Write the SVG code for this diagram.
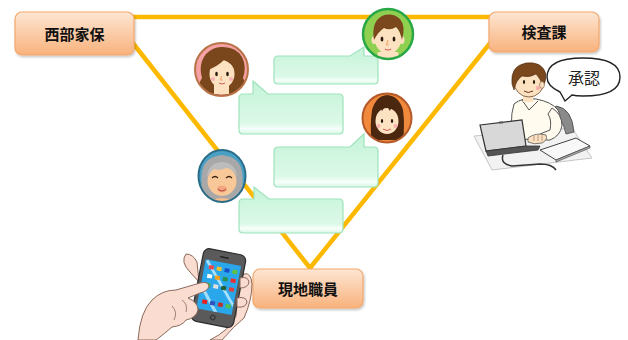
<svg xmlns="http://www.w3.org/2000/svg" width="628" height="340" viewBox="0 0 628 340">
  <defs>
    <linearGradient id="boxFill" x1="0" y1="0" x2="0" y2="1">
      <stop offset="0" stop-color="#fde6d3"/>
      <stop offset="1" stop-color="#f8b27c"/>
    </linearGradient>
    <linearGradient id="bubbleFill" x1="0" y1="0" x2="0" y2="1">
      <stop offset="0" stop-color="#c4f3d8"/>
      <stop offset="0.8" stop-color="#dcf9e8"/>
      <stop offset="0.9" stop-color="#f6fffa"/>
      <stop offset="1" stop-color="#d8f7e6"/>
    </linearGradient>
    <filter id="soft" x="-10%" y="-10%" width="130%" height="140%">
      <feDropShadow dx="1" dy="1.5" stdDeviation="1.2" flood-color="#000" flood-opacity="0.25"/>
    </filter>
    <clipPath id="clipA"><circle cx="221.5" cy="69.5" r="26.5"/></clipPath>
    <clipPath id="clipB"><circle cx="388" cy="34" r="25"/></clipPath>
    <clipPath id="clipC"><circle cx="387" cy="118" r="24.5"/></clipPath>
    <clipPath id="clipD"><ellipse cx="222" cy="176" rx="23.5" ry="26"/></clipPath>
  </defs>
  <style>
    .link { stroke: #fdb900; stroke-width: 4.5; fill: none; stroke-linecap: round; }
    .box { fill: url(#boxFill); stroke: #f3a86c; stroke-width: 1.2; filter: url(#soft); }
    .label { font-family: "Noto Sans CJK JP", "Noto Sans CJK SC", sans-serif; font-weight: bold; font-size: 15px; fill: #111; text-anchor: middle; }
    .bubble { fill: url(#bubbleFill); stroke: #9ee3bc; stroke-width: 1.2; }
    .skin { fill: #fde2c2; }
    .hand { fill: #fadcd0; stroke: #8c6a5c; stroke-width: 1; }
    .eye { fill: #2a1a10; }
  </style>

  <!-- connectors -->
  <g id="connectors">
    <line class="link" x1="130" y1="17" x2="492" y2="17"/>
    <line class="link" x1="132" y1="42" x2="310" y2="268"/>
    <line class="link" x1="491" y1="42" x2="310" y2="268"/>
  </g>

  <!-- blank message bubbles -->
  <g id="bubble1">
    <path class="bubble" d="M278,56 H350 L364,47 V56 H374 Q378,56 378,60 V80 Q378,84 374,84 H278 Q274,84 274,80 V60 Q274,56 278,56 Z"/>
  </g>
  <g id="bubble2">
    <path class="bubble" d="M243,94 H253 V81 L268,94 H339 Q343,94 343,98 V130 Q343,134 339,134 H243 Q239,134 239,130 V98 Q239,94 243,94 Z"/>
  </g>
  <g id="bubble3">
    <path class="bubble" d="M278,147 H350 L364,134 V147 H374 Q378,147 378,151 V183 Q378,187 374,187 H278 Q274,187 274,183 V151 Q274,147 278,147 Z"/>
  </g>
  <g id="bubble4">
    <path class="bubble" d="M243,199 H254 V187 L269,199 H339 Q343,199 343,203 V229 Q343,233 339,233 H243 Q239,233 239,229 V203 Q239,199 243,199 Z"/>
  </g>

  <!-- nodes -->
  <g id="node-seibu">
    <rect class="box" x="15" y="12" width="119" height="43" rx="7"/>
    <text class="label" x="74.5" y="39.5">西部家保</text>
  </g>
  <g id="node-kensa">
    <rect class="box" x="489" y="12" width="110" height="40" rx="7"/>
    <text class="label" x="544" y="38">検査課</text>
  </g>
  <g id="node-genchi">
    <rect class="box" x="253" y="269" width="110" height="39" rx="7"/>
    <text class="label" x="308" y="294.5">現地職員</text>
  </g>

  <!-- avatar: woman with wavy hair -->
  <g id="avatar-woman1">
    <circle cx="221.5" cy="69.5" r="26.5" fill="#f6a1a3"/>
    <g clip-path="url(#clipA)">
      <path d="M203,96 Q196,86 202,78 Q198,64 206,54 Q214,46 223,47 Q236,47 242,57 Q247,66 243,78 Q249,87 241,96 Z" fill="#7a471c"/>
      <rect x="214" y="84" width="15" height="10" class="skin"/>
      <path d="M210,98 Q221,90 234,98 V100 H210 Z" fill="#f6a1a3"/>
      <ellipse cx="222" cy="74" rx="12.5" ry="14" class="skin"/>
      <path d="M208,70 Q210,56 222,55 Q234,56 236,70 Q230,62 224,60 Q218,66 208,70 Z" fill="#7a471c"/>
    </g>
    <ellipse cx="216.5" cy="74" rx="1.3" ry="2.2" class="eye"/>
    <ellipse cx="227.5" cy="74" rx="1.3" ry="2.2" class="eye"/>
    <circle cx="213" cy="79" r="2" fill="#f8b0b8"/>
    <circle cx="231" cy="79" r="2" fill="#f8b0b8"/>
    <path d="M221.5,76 L220.5,80 H222.5" stroke="#e89050" stroke-width="0.8" fill="none"/>
    <path d="M219,83 Q222,85 225,83" stroke="#d06060" stroke-width="1" fill="none"/>
    <circle cx="221.5" cy="69.5" r="26.5" fill="none" stroke="#b97348" stroke-width="2"/>
  </g>

  <!-- avatar: man with short hair -->
  <g id="avatar-man">
    <circle cx="388" cy="34" r="25" fill="#8fd050"/>
    <g clip-path="url(#clipB)">
      <path d="M376,60 H400 L398,52 H378 Z" class="skin"/>
      <ellipse cx="374.5" cy="40" rx="3" ry="4" class="skin"/>
      <ellipse cx="401.5" cy="40" rx="3" ry="4" class="skin"/>
      <ellipse cx="388" cy="39" rx="13" ry="15" class="skin"/>
      <path d="M374,40 Q371,22 382,16 Q392,12 400,19 Q406,26 402,40 Q400,30 396,27 Q390,31 384,28 Q378,32 374,40 Z" fill="#7b471c"/>
    </g>
    <ellipse cx="382" cy="39" rx="1.4" ry="2.6" class="eye"/>
    <ellipse cx="394" cy="39" rx="1.4" ry="2.6" class="eye"/>
    <path d="M388,40 L386.5,45 H388.5" stroke="#e89050" stroke-width="0.8" fill="none"/>
    <path d="M385,49 Q388,51 391,49" stroke="#d06060" stroke-width="1.2" fill="none"/>
    <circle cx="388" cy="34" r="25" fill="none" stroke="#27a745" stroke-width="2.5"/>
  </g>

  <!-- avatar: woman with long straight hair -->
  <g id="avatar-woman2">
    <circle cx="387" cy="118" r="24.5" fill="#f0893c"/>
    <g clip-path="url(#clipC)">
      <path d="M371,140 Q370,125 372,110 Q376,96 387,95 Q399,96 403,110 Q405,125 403,140 Z" fill="#4b2710"/>
      <ellipse cx="387" cy="121" rx="11.5" ry="13" class="skin"/>
      <path d="M375,115 Q377,101 387,100 Q397,101 399,115 Q396,108 392,106 L390,111 L386,105 L382,111 L380,106 Q377,109 375,115 Z" fill="#4b2710"/>
      <path d="M375,114 Q374,128 377,138 L373,140 Q370,126 372,113 Z" fill="#4b2710"/>
      <path d="M399,114 Q400,128 397,138 L401,140 Q404,126 402,113 Z" fill="#4b2710"/>
    </g>
    <ellipse cx="382" cy="121" rx="1.2" ry="2" class="eye"/>
    <ellipse cx="392" cy="121" rx="1.2" ry="2" class="eye"/>
    <circle cx="378.5" cy="126" r="2" fill="#f8b0b0"/>
    <circle cx="395.5" cy="126" r="2" fill="#f8b0b0"/>
    <path d="M383,129 Q387,132 391,129" stroke="#d06060" stroke-width="1" fill="none"/>
    <circle cx="387" cy="118" r="24.5" fill="none" stroke="#b5592a" stroke-width="2"/>
  </g>

  <!-- avatar: elderly person -->
  <g id="avatar-elder">
    <ellipse cx="222" cy="176" rx="23.5" ry="26" fill="#4a9fc4"/>
    <g clip-path="url(#clipD)">
      <path d="M204,200 Q200,184 202,172 Q204,157 222,155 Q240,157 242,172 Q244,184 240,200 Z" fill="#a8a8a8"/>
      <path d="M212,200 Q222,196 232,200 V205 H212 Z" fill="#f5be8c"/>
      <ellipse cx="222" cy="181" rx="14.5" ry="15" fill="#f9c898"/>
      <path d="M207,177 Q208,163 222,162 Q236,163 237,177 Q232,168 226,168 Q220,171 214,169 Q210,172 207,177 Z" fill="#bcbcbc"/>
    </g>
    <path d="M212,178 Q215,175 218,178" stroke="#3a2010" stroke-width="1.2" fill="none"/>
    <path d="M226,178 Q229,175 232,178" stroke="#3a2010" stroke-width="1.2" fill="none"/>
    <ellipse cx="222" cy="189" rx="5" ry="3.5" fill="#f3a680"/>
    <path d="M218,189 Q222,193 226,189" stroke="#b04040" stroke-width="1" fill="none"/>
    <ellipse cx="222" cy="176" rx="23.5" ry="26" fill="none" stroke="#2a6d89" stroke-width="2"/>
  </g>

  <!-- staff member at a laptop, saying 承認 -->
  <g id="approver">
    <!-- desk -->
    <path d="M474,136 L572,128 L592,158 L492,170 Z" fill="#f2f2f2" stroke="#b8b8b8" stroke-width="0.8"/>
    <!-- chair back -->
    <path d="M556,106 Q572,108 574,132 L566,134 Q562,116 552,112 Z" fill="#8a8a8a" stroke="#444" stroke-width="0.8"/>
    <!-- torso -->
    <path d="M514,104 Q522,97 536,99 Q552,102 558,110 Q562,118 560,130 L548,138 L516,140 Q508,124 514,104 Z" fill="#fffbee" stroke="#555" stroke-width="1"/>
    <path d="M522,100 L529,110 L538,101" fill="none" stroke="#555" stroke-width="1"/>
    <!-- right arm reaching to keyboard -->
    <path d="M552,108 Q562,114 562,126 Q560,136 550,140 L540,140 L540,134 L550,130 Q552,120 548,114 Z" fill="#fffbee" stroke="#555" stroke-width="1"/>
    <path d="M528,138 Q536,132 546,135 Q548,140 542,143 Q534,145 528,142 Z" class="skin" stroke="#555" stroke-width="0.8"/>
    <path d="M534,136 V141 M538,135 V141 M542,135 V141" stroke="#8c6a5c" stroke-width="0.6"/>
    <!-- neck and head -->
    <rect x="523" y="94" width="10" height="8" class="skin"/>
    <ellipse cx="529" cy="82" rx="15" ry="15" class="skin" stroke="#6a4a30" stroke-width="0.8"/>
    <path d="M512,84 Q510,66 526,63 Q542,61 546,74 Q546,82 543,86 Q540,78 536,74 Q530,78 522,76 Q516,80 514,90 Z" fill="#7b471c" stroke="#4a2a10" stroke-width="0.6"/>
    <ellipse cx="542" cy="85" rx="2.4" ry="3.4" class="skin" stroke="#6a4a30" stroke-width="0.6"/>
    <ellipse cx="524" cy="82" rx="1.1" ry="2" class="eye"/>
    <ellipse cx="534" cy="82" rx="1.1" ry="2" class="eye"/>
    <circle cx="538" cy="88" r="2.2" fill="#f7b0a8"/>
    <path d="M524,91 Q528,94 533,91" stroke="#6a3020" stroke-width="1" fill="none"/>
    <!-- tablet on desk -->
    <path d="M540,150 L576,138 L590,146 L556,160 Z" fill="#f8f8f8" stroke="#444" stroke-width="1"/>
    <path d="M556,160 L590,146 L590,148 L556,162 Z" fill="#aaa" stroke="#444" stroke-width="0.6"/>
    <!-- laptop -->
    <path d="M480,125 L522,120 L526,146 L486,151 Z" fill="#d8d8d8" stroke="#333" stroke-width="1.2"/>
    <path d="M486,151 L526,146 L540,146 L538,150 L488,156 Z" fill="#555" stroke="#333" stroke-width="0.8"/>
    <rect x="499" y="121.5" width="4" height="2" fill="#555"/>
    <!-- cable -->
    <path d="M503,155 Q500,164 512,166 L540,164 Q552,164 556,170" fill="none" stroke="#333" stroke-width="1.5"/>
    <!-- speech balloon -->
    <path d="M560,92 Q547,86 547,77 Q547,58 583,58 Q620,58 620,77 Q620,96 583,96 Q576,96 572,95 L565,101 Z" fill="#fff" stroke="#222" stroke-width="1.4"/>
    <text x="584" y="83.5" font-family="Noto Sans CJK JP, sans-serif" font-size="16" fill="#222" text-anchor="middle">承認</text>
  </g>

  <!-- hands holding a smartphone -->
  <g id="smartphone">
    <!-- palm of the holding hand, behind the phone -->
    <path class="hand" d="M222,340 Q234,326 244,318 Q252,300 252,284 Q251,272 244,274 Q238,280 238,292 L236,316 Q230,330 210,340 Z"/>
    <path class="hand" d="M190,272 Q180,262 186,254 Q193,254 197,262 L199,282 Z"/>
    <!-- phone body -->
    <g transform="rotate(11 218 288)">
      <rect x="197" y="251" width="43" height="74" rx="6" fill="#5a5a5a" stroke="#2c2c2c" stroke-width="1.2"/>
      <rect x="200.5" y="262" width="36" height="50" fill="#2aa7ea"/>
      <path d="M203,262 L236,300 L236,304 L201,264 Z" fill="#bfeaff" opacity="0.85"/>
      <path d="M201,286 L222,312 L218,312 L201,291 Z" fill="#bfeaff" opacity="0.8"/>
      <rect x="214" y="256" width="9" height="1.6" rx="0.8" fill="#222"/>
      <circle cx="218.5" cy="318" r="2.4" fill="none" stroke="#222" stroke-width="0.8"/>
      <g>
        <rect x="205" y="267" width="5" height="4" fill="#f04848"/>
        <rect x="213" y="267" width="5" height="4" fill="#f2c030"/>
        <rect x="221" y="267" width="5" height="4" fill="#1a50c8"/>
        <rect x="229" y="267" width="5" height="4" fill="#60c040"/>
        <rect x="205" y="276" width="5" height="4" fill="#ffffff"/>
        <rect x="213" y="276" width="5" height="4" fill="#f8a020"/>
        <rect x="221" y="276" width="5" height="4" fill="#2a9050"/>
        <rect x="229" y="276" width="5" height="4" fill="#e83030"/>
        <rect x="205" y="285" width="5" height="4" fill="#40b040"/>
        <rect x="213" y="285" width="5" height="4" fill="#e0e0e0"/>
        <rect x="221" y="285" width="5" height="4" fill="#206030"/>
        <rect x="229" y="285" width="5" height="4" fill="#e04040"/>
        <rect x="205" y="302" width="5" height="4" fill="#e82020"/>
        <rect x="213" y="302" width="5" height="4" fill="#3050c0"/>
        <rect x="221" y="302" width="5" height="4" fill="#c03030"/>
        <rect x="229" y="302" width="5" height="4" fill="#50c050"/>
      </g>
    </g>
    <!-- fingers wrapping the right edge -->
    <path class="hand" d="M240,278 Q248,276 249,282 Q248,288 240,288 Z" stroke-width="0.8"/>
    <path class="hand" d="M237,298 Q246,296 247,302 Q246,308 237,307 Z" stroke-width="0.8"/>
    <!-- pointing hand -->
    <path class="hand" d="M138,340 Q140,312 152,300 Q162,290 176,290 L200,283 Q208,281 209,286 Q208,291 200,293 L188,298 Q198,302 198,310 Q196,318 186,320 Q182,326 172,327 Q164,334 156,340 Z"/>
    <path d="M182,300 Q188,304 186,312" fill="none" stroke="#8c6a5c" stroke-width="0.8"/>
    <path d="M172,306 Q178,312 174,320" fill="none" stroke="#8c6a5c" stroke-width="0.8"/>
  </g>
</svg>
